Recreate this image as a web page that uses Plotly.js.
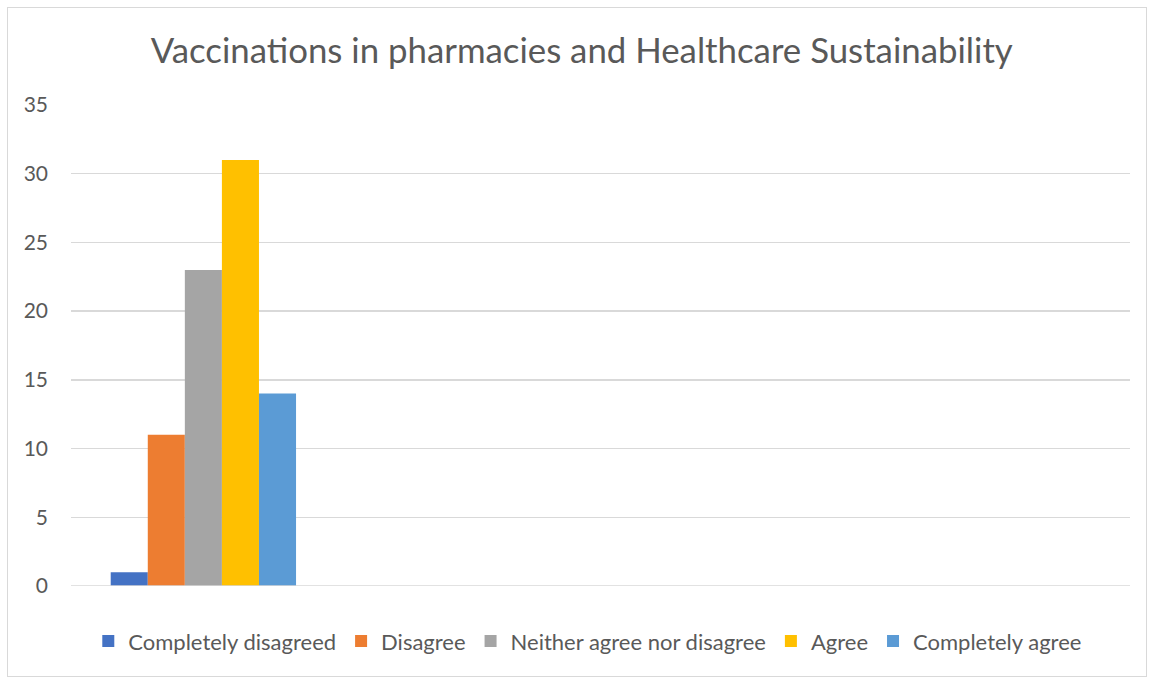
<!DOCTYPE html>
<html>
<head>
<meta charset="utf-8">
<script src="https://cdn.plot.ly/plotly-3.0.1.min.js"></script>
<style>
html,body{margin:0;padding:0;background:#fff;}
#wrap{position:relative;width:1152px;height:680px;}
#chart{width:1152px;height:680px;}
#frame{position:absolute;left:7px;top:7px;width:1138px;height:668px;border:1px solid #d9d9d9;pointer-events:none;}
</style>
</head>
<body>
<div id="wrap"><div id="chart"></div><div id="frame"></div></div>
<script>
var categories = ["Group 1", "Group 2", "Group 3", "Group 4"];
var seriesNames = ["Completely disagreed", "Disagree", "Neither agree nor disagree", "Agree", "Completely agree"];
var completelyDisagreed = [1, null, null, null];
var disagree = [11, null, null, null];
var neither = [23, null, null, null];
var agree = [31, null, null, null];
var completelyAgree = [14, null, null, null];
var seriesValues = [completelyDisagreed, disagree, neither, agree, completelyAgree];
var colors = ["#4472c4", "#ed7d31", "#a5a5a5", "#ffc000", "#5b9bd5"];

var font = "Lato, 'Open Sans', sans-serif";
var traces = seriesNames.map(function(n, i){
  return {type:"bar", name:n, x:categories, y:seriesValues[i], marker:{color:colors[i]}, hoverinfo:"y+name"};
});

var layout = {
  width:1152, height:680,
  margin:{l:71, r:22, t:105, b:94},
  paper_bgcolor:"#fff", plot_bgcolor:"#fff",
  title:{text:"Vaccinations in pharmacies and Healthcare Sustainability", font:{family:font, size:34.8, color:"#595959"}, x:0.505, xanchor:"center", y:0.925, yanchor:"middle"},
  barmode:"group", bargap:0.30, bargroupgap:0,
  xaxis:{type:"category", categoryorder:"array", categoryarray:categories, showticklabels:false, showgrid:false, zeroline:false, showline:false, ticks:""},
  yaxis:{range:[0,35], dtick:5, tick0:0, showgrid:true, gridcolor:"#d9d9d9", gridwidth:1.5, zeroline:false, showline:false, ticks:"", tickfont:{family:font, size:21, color:"#595959"}, ticklabelstandoff:22, fixedrange:true},
  showlegend:true,
  legend:{orientation:"h", x:0.488, xanchor:"center", y:-0.115, yanchor:"middle", font:{family:font, size:22, color:"#595959"}, itemwidth:30, tracegroupgap:0},
  shapes:[{type:"line", xref:"paper", yref:"y", x0:0, x1:1, y0:0, y1:0, line:{color:"#d9d9d9", width:1.5}}]
};
Plotly.newPlot("chart", traces, layout, {displayModeBar:false, staticPlot:true});
</script>
</body>
</html>
